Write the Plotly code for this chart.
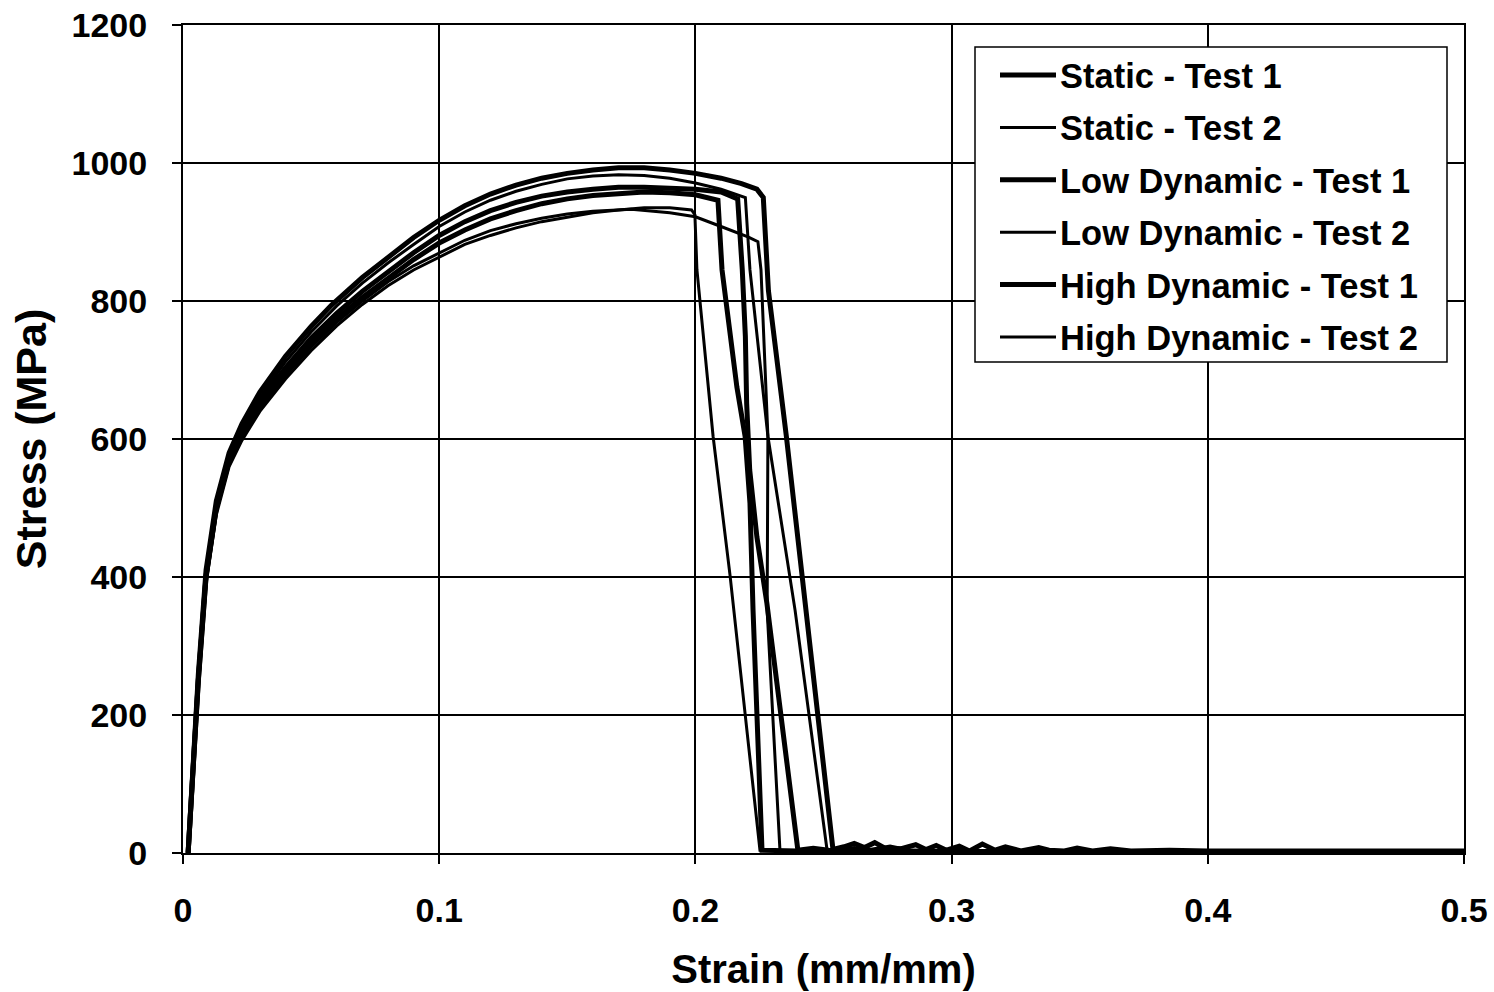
import plotly.graph_objects as go

# Engineering stress-strain data (strain in mm/mm, stress in MPa)
static1_strain = [0.002, 0.006, 0.009, 0.013, 0.018, 0.023, 0.030, 0.040, 0.050, 0.060, 0.070, 0.080, 0.090,
                  0.100, 0.110, 0.120, 0.130, 0.140, 0.150, 0.160, 0.170, 0.180, 0.190, 0.200, 0.2088,
                  0.2104, 0.2162, 0.2194, 0.2213, 0.2225, 0.2260, 0.240, 0.300, 0.400]
static1_stress = [0, 250, 400, 500, 568, 606, 648, 695, 738, 774, 805, 833, 860,
                  884, 903, 919, 931, 941, 948, 953, 956, 958, 957, 954, 946,
                  845, 675, 604, 507, 352, 4, 3, 2, 2]

static2_strain = [0.002, 0.006, 0.009, 0.013, 0.018, 0.023, 0.030, 0.040, 0.050, 0.060, 0.070, 0.080, 0.090,
                  0.100, 0.110, 0.120, 0.130, 0.140, 0.150, 0.160, 0.170, 0.180, 0.190, 0.1985,
                  0.1998, 0.2006, 0.2069, 0.2135, 0.2252, 0.240, 0.300]
static2_stress = [0, 240, 390, 490, 560, 598, 640, 687, 728, 764, 795, 822, 845,
                  864, 882, 895, 906, 915, 922, 928, 932, 935, 935, 932,
                  925, 845, 604, 403, 4, 3, 2]

lowdyn1_strain = [0.002, 0.006, 0.009, 0.013, 0.018, 0.023, 0.030, 0.040, 0.050, 0.058, 0.070, 0.080, 0.090,
                  0.100, 0.110, 0.120, 0.130, 0.140, 0.150, 0.160, 0.170, 0.180, 0.190, 0.200, 0.210,
                  0.218, 0.224, 0.2265, 0.2285, 0.2355, 0.2416, 0.2537,
                  0.258, 0.262, 0.266, 0.270, 0.274, 0.280, 0.286, 0.290, 0.294, 0.298, 0.303,
                  0.307, 0.312, 0.317, 0.321, 0.327, 0.334, 0.338, 0.344, 0.349, 0.355, 0.362,
                  0.370, 0.385, 0.400, 0.430, 0.460, 0.500]
lowdyn1_stress = [0, 260, 410, 510, 580, 622, 668, 720, 763, 794, 834, 864, 892,
                  917, 938, 955, 968, 978, 985, 990, 993, 993, 990, 985, 978,
                  970, 962, 950, 815, 604, 403, 5,
                  9, 14, 8, 15, 7, 6, 12, 5, 11, 4, 10,
                  3, 13, 4, 9, 3, 8, 4, 3, 7, 3, 6,
                  3, 4, 3, 3, 3, 3]

lowdyn2_strain = [0.002, 0.006, 0.009, 0.013, 0.018, 0.023, 0.030, 0.040, 0.050, 0.060, 0.070, 0.080, 0.090,
                  0.100, 0.110, 0.120, 0.130, 0.140, 0.150, 0.160, 0.170, 0.180, 0.190, 0.200, 0.210,
                  0.2195, 0.2213, 0.2283, 0.2389, 0.2514, 0.262, 0.268, 0.276, 0.284, 0.300, 0.340]
lowdyn2_stress = [0, 255, 405, 505, 575, 615, 660, 712, 755, 793, 826, 855, 882,
                  908, 929, 946, 959, 969, 977, 981, 983, 982, 978, 971, 962,
                  950, 845, 604, 352, 4, 8, 5, 10, 4, 3, 2]

highdyn1_strain = [0.002, 0.006, 0.009, 0.013, 0.018, 0.023, 0.030, 0.040, 0.050, 0.060, 0.070, 0.080, 0.090,
                   0.100, 0.110, 0.120, 0.130, 0.140, 0.150, 0.160, 0.170, 0.180, 0.190, 0.200, 0.210,
                   0.2165, 0.2183, 0.2195, 0.2200, 0.2212, 0.2240, 0.2279, 0.2400, 0.246, 0.252, 0.300]
highdyn1_stress = [0, 252, 402, 502, 572, 610, 654, 703, 746, 782, 814, 843, 870,
                   895, 915, 931, 943, 952, 958, 962, 965, 965, 964, 962, 958,
                   948, 845, 749, 652, 555, 458, 362, 4, 7, 4, 2]

highdyn2_strain = [0.002, 0.006, 0.009, 0.013, 0.018, 0.023, 0.030, 0.040, 0.050, 0.060, 0.070, 0.080, 0.090,
                   0.100, 0.110, 0.120, 0.130, 0.140, 0.150, 0.160, 0.175, 0.190, 0.200, 0.210,
                   0.2205, 0.2244, 0.2256, 0.2283, 0.2280, 0.2330, 0.245, 0.300]
highdyn2_stress = [0, 245, 395, 495, 565, 602, 644, 692, 733, 769, 800, 828, 851,
                   870, 888, 902, 912, 920, 926, 930, 933, 928, 922, 908,
                   893, 886, 845, 604, 352, 4, 3, 2]

series_names = ["Static - Test 1", "Static - Test 2",
                "Low Dynamic - Test 1", "Low Dynamic - Test 2",
                "High Dynamic - Test 1", "High Dynamic - Test 2"]
series_strain = [static1_strain, static2_strain, lowdyn1_strain,
                 lowdyn2_strain, highdyn1_strain, highdyn2_strain]
series_stress = [static1_stress, static2_stress, lowdyn1_stress,
                 lowdyn2_stress, highdyn1_stress, highdyn2_stress]

x_ticks = [0, 0.1, 0.2, 0.3, 0.4, 0.5]
x_labels = ["0", "0.1", "0.2", "0.3", "0.4", "0.5"]
y_ticks = [0, 200, 400, 600, 800, 1000, 1200]
y_labels = ["0", "200", "400", "600", "800", "1000", "1200"]

FONT = "Liberation Sans, Arial, sans-serif"
W, H = 1494, 992
ML, MR, MT, MB = 183, 30, 25, 139
THICK, THIN = 5, 3


def px_to_paper(px, py):
    """Convert a pixel position on the page to paper coordinates."""
    return (px - ML) / (W - ML - MR), (H - MB - py) / (H - MT - MB)


fig = go.Figure()
for i, (name, xs, ys) in enumerate(zip(series_names, series_strain, series_stress)):
    fig.add_trace(go.Scatter(
        x=xs, y=ys, mode="lines", name=name,
        line=dict(color="black", width=THICK if i % 2 == 0 else THIN),
        showlegend=False,
    ))

# Boxed legend drawn in paper space
shapes = []
annotations = []
bx0, by0 = px_to_paper(975, 362)
bx1, by1 = px_to_paper(1447, 47)
shapes.append(dict(type="rect", xref="paper", yref="paper", x0=bx0, y0=by0, x1=bx1, y1=by1,
                   line=dict(color="black", width=1.5), fillcolor="white", layer="above"))
for i, name in enumerate(series_names):
    row_y = 75 + i * 52.4
    lx0, ly = px_to_paper(1000, row_y)
    lx1, _ = px_to_paper(1056, row_y)
    shapes.append(dict(type="line", xref="paper", yref="paper", x0=lx0, y0=ly, x1=lx1, y1=ly,
                       line=dict(color="black", width=THICK if i % 2 == 0 else THIN), layer="above"))
    tx, ty = px_to_paper(1058, row_y + 1)
    annotations.append(dict(xref="paper", yref="paper", x=tx, y=ty, text=name, showarrow=False,
                            xanchor="left", yanchor="middle",
                            font=dict(family=FONT, size=34.5, color="black", weight="bold")))

axis_common = dict(
    showgrid=True, gridcolor="black", gridwidth=2,
    showline=True, linecolor="black", linewidth=2, mirror=True,
    ticks="outside", ticklen=9, tickwidth=1.5, tickcolor="black",
    zeroline=False, automargin=False,
    tickfont=dict(family=FONT, size=34, color="black", weight="bold"),
)

fig.update_layout(
    width=W, height=H,
    margin=dict(l=ML, r=MR, t=MT, b=MB),
    paper_bgcolor="white", plot_bgcolor="white",
    showlegend=False,
    shapes=shapes,
    annotations=annotations,
    xaxis=dict(
        range=[0, 0.5], tickvals=x_ticks, ticktext=x_labels,
        ticklabelstandoff=17,
        title=dict(text="Strain (mm/mm)", standoff=27,
                   font=dict(family=FONT, size=40, color="black", weight="bold")),
        **axis_common,
    ),
    yaxis=dict(
        range=[0, 1200], tickvals=y_ticks, ticktext=y_labels,
        ticklabelstandoff=18,
        title=dict(text="Stress (MPa)", standoff=12,
                   font=dict(family=FONT, size=43, color="black", weight="bold")),
        **axis_common,
    ),
)

fig.write_html("out.html")
